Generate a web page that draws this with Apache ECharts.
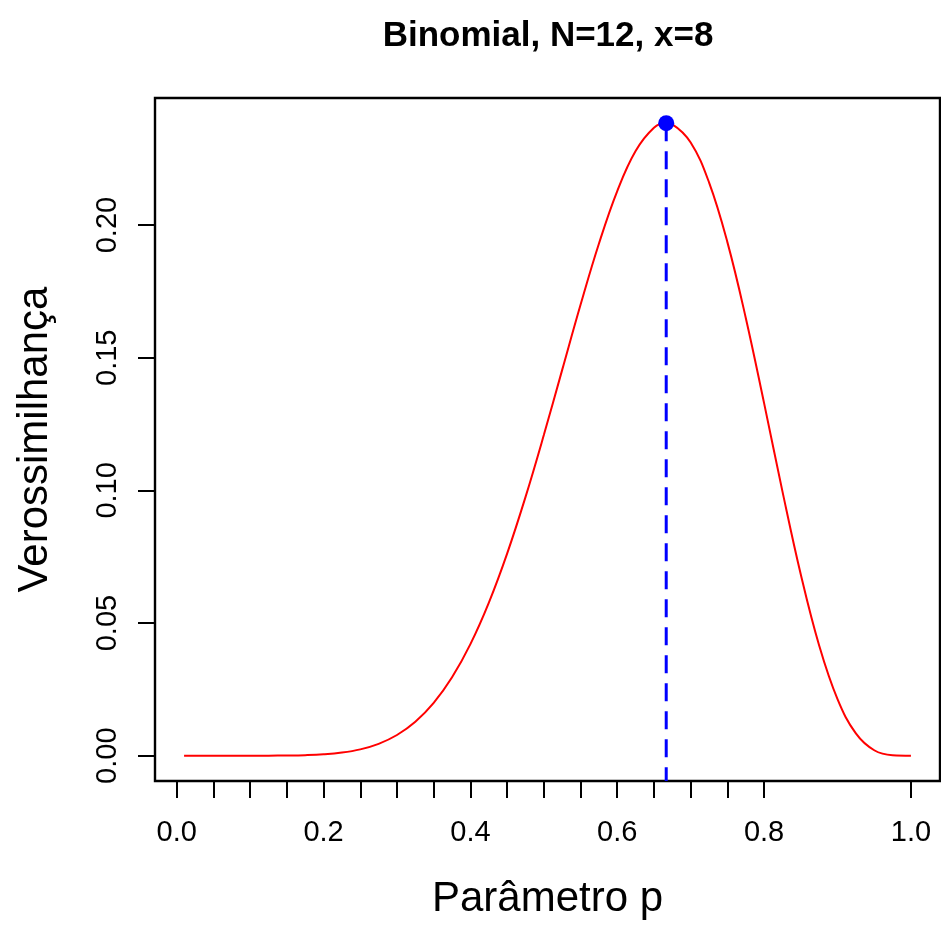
<!DOCTYPE html>
<html>
<head>
<meta charset="utf-8">
<script src="https://cdn.jsdelivr.net/npm/echarts@6/dist/echarts.min.js"></script>
<style>
html,body{margin:0;padding:0;background:#fff;}
#c{width:941px;height:925px;}
</style>
</head>
<body>
<div id="c"></div>
<script>
// Data
var titleText = 'Binomial, N=12, x=8';
var xName = 'Parâmetro p';
var yName = 'Verossimilhança';
var pValues = [0.01, 0.025, 0.05, 0.075, 0.1, 0.125, 0.15, 0.175, 0.2, 0.225, 0.25, 0.275, 0.3, 0.325, 0.35, 0.375, 0.4, 0.425, 0.45, 0.475, 0.5, 0.525, 0.55, 0.575, 0.6, 0.625, 0.65, 0.6667, 0.675, 0.7, 0.725, 0.75, 0.775, 0.8, 0.825, 0.85, 0.875, 0.9, 0.925, 0.95, 0.975, 1.0];
var likValues = [0, 0, 0.00000002, 0.0000004, 0.0000032, 0.0000173, 0.0000662, 0.0002017, 0.000519, 0.001173, 0.00239, 0.004473, 0.007798, 0.012791, 0.019898, 0.029537, 0.042043, 0.057593, 0.076165, 0.097452, 0.12085, 0.14543, 0.169964, 0.192976, 0.212841, 0.227915, 0.236693, 0.238446, 0.237993, 0.23114, 0.216092, 0.193578, 0.165101, 0.132875, 0.09963, 0.068285, 0.041525, 0.021308, 0.008394, 0.002052, 0.000158, 0];
var mleP = 0.6667;
var mleL = 0.2384;
var xTickValues = [0, 0.05, 0.1, 0.15, 0.2, 0.25, 0.3, 0.35, 0.4, 0.45, 0.5, 0.55, 0.6, 0.65, 0.7, 0.75, 0.8, 1.0];
var xLabelValues = [0, 0.2, 0.4, 0.6, 0.8, 1.0];
var yTickValues = [0, 0.05, 0.1, 0.15, 0.2];
var xMin = -0.0296, xMax = 1.0396;
var yMin = -0.00954, yMax = 0.2479;

var curve = pValues.map(function (p, i) { return [p, likValues[i]]; });
var FONT = '"Liberation Sans", Arial, Helvetica, sans-serif';

var chart = echarts.init(document.getElementById('c'), null, {renderer: 'canvas'});
chart.setOption({
  animation: false,
  backgroundColor: '#fff',
  graphic: [{
    type: 'text',
    x: 548, y: 36,
    style: {
      text: titleText,
      fontFamily: FONT,
      fontWeight: 'bold',
      fontSize: 35,
      fill: '#000',
      textAlign: 'center',
      textVerticalAlign: 'middle'
    }
  }],
  grid: {
    left: 155, top: 98, right: 1, bottom: 142,
    show: true,
    borderColor: '#000',
    borderWidth: 2.4,
    backgroundColor: 'transparent'
  },
  xAxis: {
    type: 'value',
    min: xMin, max: xMax,
    name: xName,
    nameLocation: 'middle',
    nameGap: 97,
    nameTextStyle: {fontFamily: FONT, fontSize: 42, color: '#000'},
    axisLine: {show: false, onZero: false},
    splitLine: {show: false},
    axisTick: {show: true, inside: false, length: 17, lineStyle: {color: '#000', width: 2}, customValues: xTickValues},
    axisLabel: {
      customValues: xLabelValues,
      fontFamily: FONT, fontSize: 29, color: '#000', margin: 37, lineHeight: 29,
      formatter: function (v) { return v.toFixed(1); }
    }
  },
  yAxis: {
    type: 'value',
    min: yMin, max: yMax,
    name: yName,
    nameLocation: 'middle',
    nameGap: 99,
    nameTextStyle: {fontFamily: FONT, fontSize: 42, color: '#000'},
    axisLine: {show: false, onZero: false},
    splitLine: {show: false},
    axisTick: {show: true, inside: false, length: 17, lineStyle: {color: '#000', width: 2}, customValues: yTickValues},
    axisLabel: {
      customValues: yTickValues,
      rotate: 90,
      fontFamily: FONT, fontSize: 29, color: '#000', margin: 33, lineHeight: 29,
      formatter: function (v) { return v.toFixed(2); }
    }
  },
  series: [
    {
      type: 'line',
      data: curve,
      showSymbol: false,
      smooth: 0.4,
      lineStyle: {color: '#ff0000', width: 2},
      z: 2
    },
    {
      type: 'line',
      data: [[mleP, mleL], [mleP, yMin]],
      showSymbol: false,
      lineStyle: {color: '#0000ff', width: 3, type: [18, 10]},
      z: 3
    },
    {
      type: 'scatter',
      data: [[mleP, mleL]],
      symbol: 'circle',
      symbolSize: 16,
      itemStyle: {color: '#0000ff', opacity: 1},
      z: 4
    }
  ]
});
</script>
</body>
</html>
